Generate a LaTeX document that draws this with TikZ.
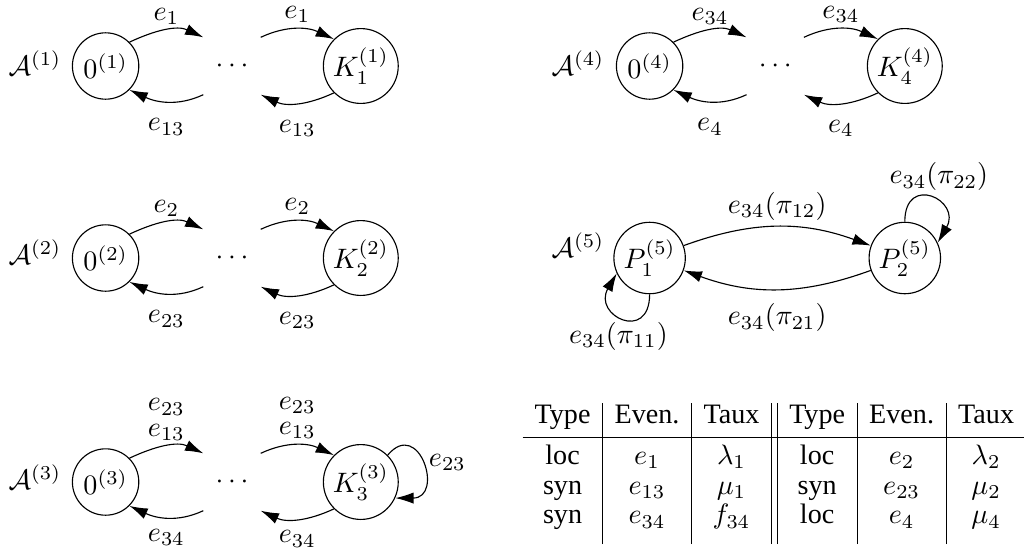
\documentclass[tikz,border=0pt]{standalone}
\usepackage[no-math]{fontspec}
\setmainfont{Liberation Serif}
\newfontfamily\tabfont{Liberation Serif}
\usetikzlibrary{arrows.meta}

\begin{document}
\begin{tikzpicture}[
  etat/.style={circle,draw,minimum size=0.83cm,inner sep=1pt},
  trou/.style={circle,minimum size=1cm,inner sep=0pt},
  arr/.style={-{Latex[length=6.5pt,width=4pt]}},
  arcup/.style={out=25,in=155},
  arcdn/.style={out=205,in=-25},
  lab/.style={midway,above,inner sep=2pt},
  labb/.style={midway,below=4pt,inner sep=2pt}]
  \useasboundingbox (0,0) rectangle (12.8,6.8875);
  % A(1)
  \node (a1) at (0.4375,6.1) {$\mathcal{A}^{(1)}$};
  \node[etat] (z1) at (1.32,6.0625) {$0^{(1)}$};
  \node[trou] (d1) at (2.9,6.0625) {$\cdots$};
  \node[etat] (k1) at (4.51,6.0625) {$K_1^{(1)}$};
  \draw[arr] (z1.45) to[arcup] node[lab] {$e_1$} (d1.135);
  \draw[arr] (d1.45) to[arcup] node[lab] {$e_1$} (k1.135);
  \draw[arr] (d1.225) to[arcdn] node[labb] {$e_{13}$} (z1.315);
  \draw[arr] (k1.225) to[arcdn] node[labb] {$e_{13}$} (d1.315);
  % A(2)
  \node (a2) at (0.4375,3.7375) {$\mathcal{A}^{(2)}$};
  \node[etat] (z2) at (1.32,3.6625) {$0^{(2)}$};
  \node[trou] (d2) at (2.9,3.6625) {$\cdots$};
  \node[etat] (k2) at (4.51,3.6625) {$K_2^{(2)}$};
  \draw[arr] (z2.45) to[arcup] node[lab] {$e_2$} (d2.135);
  \draw[arr] (d2.45) to[arcup] node[lab] {$e_2$} (k2.135);
  \draw[arr] (d2.225) to[arcdn] node[labb] {$e_{23}$} (z2.315);
  \draw[arr] (k2.225) to[arcdn] node[labb] {$e_{23}$} (d2.315);
  % A(3)
  \node (a3) at (0.4375,0.925) {$\mathcal{A}^{(3)}$};
  \node[etat] (z3) at (1.32,0.8625) {$0^{(3)}$};
  \node[trou] (d3) at (2.9,0.8625) {$\cdots$};
  \node[etat] (k3) at (4.51,0.8625) {$K_3^{(3)}$};
  \draw[arr] (z3.45) to[arcup] node[lab,align=center] {$e_{23}$\\[-3pt]$e_{13}$} (d3.135);
  \draw[arr] (d3.45) to[arcup] node[lab,align=center] {$e_{23}$\\[-3pt]$e_{13}$} (k3.135);
  \draw[arr] (d3.225) to[arcdn] node[labb,yshift=2pt] {$e_{34}$} (z3.315);
  \draw[arr] (k3.225) to[arcdn] node[labb,yshift=2pt] {$e_{34}$} (d3.315);
  \draw[arr] (k3.45) to[out=50,in=0,looseness=2.9] node[midway,right=-1pt] {$e_{23}$} (k3.-25);
  % A(4)
  \node (a4) at (7.225,6.1) {$\mathcal{A}^{(4)}$};
  \node[etat] (z4) at (8.12,6.0625) {$0^{(4)}$};
  \node[trou] (d4) at (9.69,6.0625) {$\cdots$};
  \node[etat] (k4) at (11.31,6.0625) {$K_4^{(4)}$};
  \draw[arr] (z4.45) to[arcup] node[lab] {$e_{34}$} (d4.135);
  \draw[arr] (d4.45) to[arcup] node[lab] {$e_{34}$} (k4.135);
  \draw[arr] (d4.225) to[arcdn] node[labb] {$e_4$} (z4.315);
  \draw[arr] (k4.225) to[arcdn] node[labb] {$e_4$} (d4.315);
  % A(5)
  \node (a5) at (7.225,3.825) {$\mathcal{A}^{(5)}$};
  \node[etat] (p1) at (8.12,3.6625) {$P_1^{(5)}$};
  \node[etat] (p2) at (11.31,3.6625) {$P_2^{(5)}$};
  \draw[arr] (p1) to[bend left=20] node[lab] {$e_{34}(\pi_{12})$} (p2);
  \draw[arr] (p2) to[bend left=20] node[midway,below=3pt,inner sep=2pt] {$e_{34}(\pi_{21})$} (p1);
  \draw[arr] (p2.90) to[out=90,in=60,looseness=3.2] node[midway,above=-1pt,xshift=3pt] {$e_{34}(\pi_{22})$} (p2.25);
  \draw[arr] (p1.270) to[out=270,in=240,looseness=3.2] node[midway,below=-2pt,xshift=-2pt] {$e_{34}(\pi_{11})$} (p1.205);
  % table
  \node[anchor=north west,inner sep=0pt] (tab) at (6.525,1.86) {%
    \tabfont\setlength{\tabcolsep}{4.3pt}\renewcommand{\arraystretch}{0.88}%
    \begin{tabular}{c|c|c||c|c|c}
      Type & Even. & Taux & Type & Even. & Taux\\[1.6pt]
      \hline
      \rule{0pt}{9.4pt}loc & $e_1$ & $\lambda_1$ & loc & $e_2$ & $\lambda_2$\\
      syn & $e_{13}$ & $\mu_1$ & syn & $e_{23}$ & $\mu_2$\\
      syn & $e_{34}$ & $f_{34}$ & loc & $e_4$ & $\mu_4$\\[4pt]
    \end{tabular}};
\end{tikzpicture}
\end{document}
